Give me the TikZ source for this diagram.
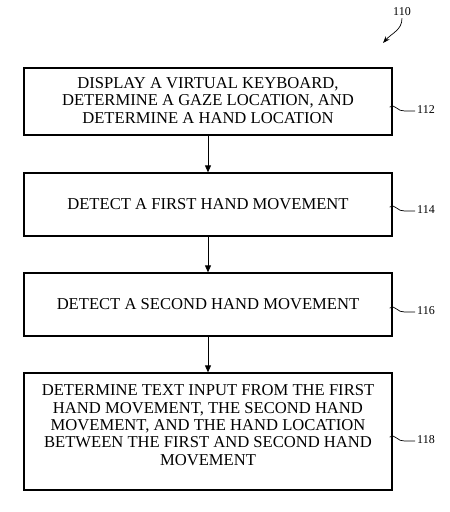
\documentclass[tikz,border=0pt]{standalone}
\usepackage{fontspec}
\setmainfont{Liberation Serif}
\usetikzlibrary{arrows.meta}
\begin{document}
\begin{tikzpicture}[x=1pt,y=-1pt,
  stepbox/.style={draw, line width=1.3pt, minimum width=368pt, align=center,
    font=\fontsize{16.6}{17.4}\selectfont, inner sep=0pt},
  flow/.style={line width=0.8pt, -{Triangle[length=7pt,width=6pt]}},
  reflab/.style={font=\fontsize{12}{14}\selectfont, inner sep=0pt},
  squig/.style={line width=0.7pt}]
\useasboundingbox (0,0) rectangle (450,512);
\node[stepbox, minimum height=67pt] (b1) at (208,101.5)
  {DISPLAY A VIRTUAL KEYBOARD,\\DETERMINE A GAZE LOCATION, AND\\DETERMINE A HAND LOCATION\rule[-2pt]{0pt}{0pt}};
\node[stepbox, minimum height=63pt] (b2) at (208,204.5) {DETECT A FIRST HAND MOVEMENT};
\node[stepbox, minimum height=63pt] (b3) at (208,304.5) {DETECT A SECOND HAND MOVEMENT};
\node[stepbox, minimum height=117pt] (b4) at (208,431.5)
  {DETERMINE TEXT INPUT FROM THE FIRST\\HAND MOVEMENT, THE SECOND HAND\\MOVEMENT, AND THE HAND LOCATION\\BETWEEN THE FIRST AND SECOND HAND\\MOVEMENT\rule[-13pt]{0pt}{0pt}};
\draw[flow] (b1) -- (b2);
\draw[flow] (b2) -- (b3);
\draw[flow] (b3) -- (b4);
\foreach \b/\y/\t in {b1/110/112, b2/210/114, b3/311/116, b4/440/118}{
  \node[reflab, anchor=west] (l\t) at (417,\y) {\t};
  \draw[squig] ([xshift=-3pt,yshift=3pt]\b.east |- 0,\y)
     .. controls ([xshift=2pt,yshift=7pt]\b.east |- 0,\y) and ([xshift=5pt,yshift=-2pt]\b.east |- 0,\y)
     .. ([xshift=12pt,yshift=-1pt]\b.east |- 0,\y) -- ([xshift=-2pt,yshift=-1pt]l\t.west);
}
\node[reflab] (l110) at (402,12) {110};
\coordinate (t110) at (383,43);
\draw[line width=0.7pt, -{Stealth[length=7pt,width=5pt]}] ([yshift=-2pt]l110.south) .. controls (402,30) and (392,33) .. (t110);
\end{tikzpicture}
\end{document}
